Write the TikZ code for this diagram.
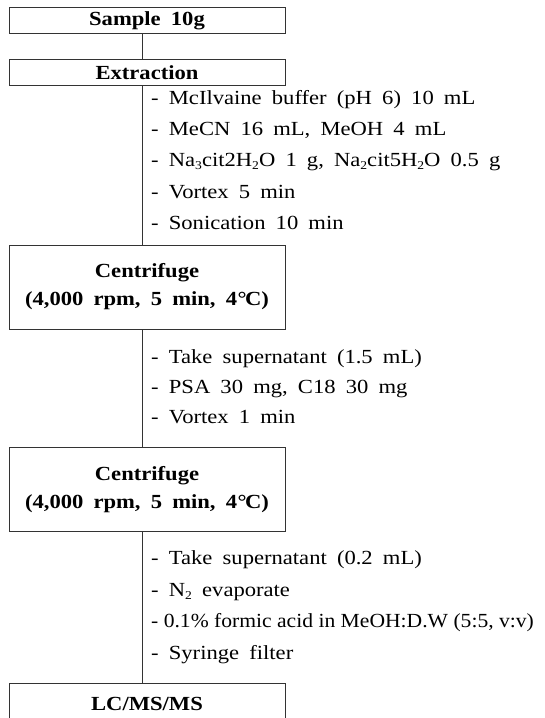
\documentclass[tikz,border=0pt]{standalone}
\usepackage{fontspec}
\setmainfont{Liberation Serif}[FakeStretch=1.13, WordSpace=1.8]
\newfontfamily\narrowfont{Liberation Serif}[FakeStretch=1.08]
\newcommand\lowsub[1]{\raisebox{-0.35ex}{\fontsize{12pt}{12pt}\selectfont #1}}
\newcommand\degC{\kern0.5pt\textdegree\kern-1.5pt C}
\tikzset{
  stepbox/.style={draw=black!80, line width=0.8pt, minimum width=276pt, inner sep=0pt,
    align=center, font={\bfseries\fontsize{20pt}{28pt}\selectfont}},
  conn/.style={draw=black!80, line width=0.8pt},
  item/.style={anchor=base west, inner sep=0pt, font={\fontsize{20pt}{24pt}\selectfont}}
}
\begin{document}
\begin{tikzpicture}[x=1pt, y=-1pt]
\useasboundingbox (0,0) rectangle (545,718);
\fill[white] (0,0) rectangle (545,718);
\coordinate (spine) at (142,0);
\node[stepbox, minimum height=26pt] (sample) at (147,20.5) {Sample 10g};
\node[stepbox, minimum height=26pt] (extract) at (147,72.5) {Extraction};
\node[stepbox, minimum height=84pt] (cent1) at (147,287) {Centrifuge\\(4,000 rpm, 5 min, 4\degC)};
\node[stepbox, minimum height=84pt] (cent2) at (147,489.5) {Centrifuge\\(4,000 rpm, 5 min, 4\degC)};
\node[stepbox, minimum height=42pt] (lcms) at (147,704) {LC/MS/MS};

\draw[conn] (sample.south -| spine) -- (extract.north -| spine);
\draw[conn] (extract.south -| spine) -- (cent1.north -| spine);
\draw[conn] (cent1.south -| spine) -- (cent2.north -| spine);
\draw[conn] (cent2.south -| spine) -- (lcms.north -| spine);

\node[item] (a1) at (151,104) {- McIlvaine buffer (pH 6) 10 mL};
\node[item] (a2) at (151,135) {- MeCN 16 mL, MeOH 4 mL};
\node[item] (a3) at (151,166.5) {- Na\lowsub{3}cit2H\lowsub{2}O 1 g, Na\lowsub{2}cit5H\lowsub{2}O 0.5 g};
\node[item] (a4) at (151,198) {- Vortex 5 min};
\node[item] (a5) at (151,229) {- Sonication 10 min};

\node[item] (b1) at (151,363) {- Take supernatant (1.5 mL)};
\node[item] (b2) at (151,393) {- PSA 30 mg, C18 30 mg};
\node[item] (b3) at (151,423) {- Vortex 1 min};

\node[item] (c1) at (151,564) {- Take supernatant (0.2 mL)};
\node[item] (c2) at (151,596) {- N\lowsub{2} evaporate};
\node[item] (c3) at (151,627) {\narrowfont - 0.1\% formic acid in MeOH:D.W (5:5, v:v)};
\node[item] (c4) at (151,659) {- Syringe filter};
\end{tikzpicture}
\end{document}
